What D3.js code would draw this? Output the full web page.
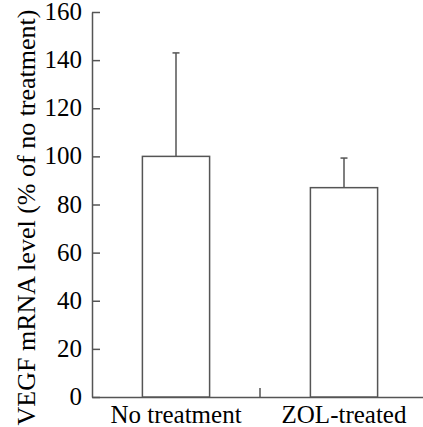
<!DOCTYPE html>
<html>
<head>
<meta charset="utf-8">
<script src="https://cdn.jsdelivr.net/npm/d3@7"></script>
</head>
<body style="margin:0">
<svg id="chart" width="423" height="427"></svg>
<script>
const groups = ['No treatment', 'ZOL-treated'];
const means = [100, 87];
const errors = [43, 12.3];
const yTicks = [0, 20, 40, 60, 80, 100, 120, 140, 160];
const yTitle = 'VEGF mRNA level (% of no treatment)';

const width = 423, height = 427;
const margin = { top: 12, left: 92, bottom: 30 };
const plotRight = 428;
const axisColor = '#555';
const fontFam = 'Liberation Serif';

const svg = d3.select('#chart');

const y = d3.scaleLinear()
  .domain([0, 160])
  .range([height - margin.bottom, margin.top]);

const x = d3.scaleBand()
  .domain(groups)
  .range([margin.left, plotRight])
  .paddingInner(0.6)
  .paddingOuter(0.3);

const data = groups.map((g, i) => ({ group: g, mean: means[i], err: errors[i] }));

// y axis lines, ticks pointing inward (labels drawn separately below)
const yAxis = svg.append('g')
  .attr('transform', 'translate(' + margin.left + ',0)')
  .call(d3.axisLeft(y).tickValues(yTicks).tickSize(-8).tickSizeOuter(0).tickFormat(''));
yAxis.select('.domain').attr('stroke', axisColor).attr('stroke-width', 1.5);
yAxis.selectAll('.tick line').attr('stroke', axisColor).attr('stroke-width', 1.5);

// x axis line
const xAxis = svg.append('g')
  .attr('transform', 'translate(0,' + y(0) + ')')
  .call(d3.axisBottom(x).tickSize(0).tickSizeOuter(0).tickFormat(''));
xAxis.select('.domain').attr('stroke', axisColor).attr('stroke-width', 1.5);

// y tick labels, right-aligned by measured width
svg.selectAll('.ylab')
  .data(yTicks)
  .enter()
  .append('text')
    .attr('class', 'ylab')
    .attr('font-family', fontFam)
    .attr('font-size', 25)
    .attr('y', d => y(d) + 8)
    .text(d => d)
    .attr('x', function() { return margin.left - 10 - this.getComputedTextLength(); });

// x category labels, centred by measured width
svg.selectAll('.xlab')
  .data(groups)
  .enter()
  .append('text')
    .attr('class', 'xlab')
    .attr('font-family', fontFam)
    .attr('font-size', 25)
    .attr('y', y(0) + 26)
    .text(d => d)
    .attr('x', function(d) { return x(d) + x.bandwidth() / 2 - this.getComputedTextLength() / 2; });

// tick marks between the groups, pointing up
const boundaries = groups.slice(1).map(g => x(g) - x.step() * x.paddingInner() / 2);
svg.selectAll('.sep')
  .data(boundaries)
  .enter()
  .append('line')
    .attr('class', 'sep')
    .attr('x1', d => d)
    .attr('x2', d => d)
    .attr('y1', y(0))
    .attr('y2', y(0) - 9)
    .attr('stroke', axisColor)
    .attr('stroke-width', 1.5);

// error bars (drawn before bars so bar top covers the base)
const capW = 7;
const eb = svg.append('g');
eb.selectAll('.err')
  .data(data)
  .enter()
  .append('line')
    .attr('x1', d => x(d.group) + x.bandwidth() / 2)
    .attr('x2', d => x(d.group) + x.bandwidth() / 2)
    .attr('y1', d => y(d.mean))
    .attr('y2', d => y(d.mean + d.err))
    .attr('stroke', axisColor)
    .attr('stroke-width', 1.5);
eb.selectAll('.cap')
  .data(data)
  .enter()
  .append('line')
    .attr('x1', d => x(d.group) + x.bandwidth() / 2 - capW / 2)
    .attr('x2', d => x(d.group) + x.bandwidth() / 2 + capW / 2)
    .attr('y1', d => y(d.mean + d.err))
    .attr('y2', d => y(d.mean + d.err))
    .attr('stroke', axisColor)
    .attr('stroke-width', 1.5);

// bars
svg.selectAll('.bar')
  .data(data)
  .enter()
  .append('rect')
    .attr('class', 'bar')
    .attr('x', d => x(d.group))
    .attr('y', d => y(d.mean))
    .attr('width', x.bandwidth())
    .attr('height', d => y(0) - y(d.mean))
    .attr('fill', '#fff')
    .attr('stroke', axisColor)
    .attr('stroke-width', 1.5);

// y title, rotated; centred on the plot by measured length
const titleMid = (y(0) + y(160)) / 2 + 13;
svg.append('text')
  .attr('transform', 'rotate(-90)')
  .attr('font-family', fontFam)
  .attr('font-size', 26)
  .attr('y', 35)
  .text(yTitle)
  .attr('x', function() { return -titleMid - this.getComputedTextLength() / 2; });
</script>
</body>
</html>
